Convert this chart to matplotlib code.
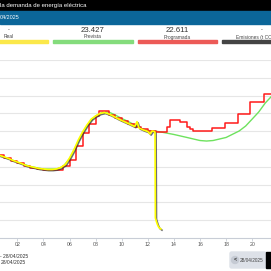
import matplotlib
matplotlib.use('Agg')
import matplotlib.pyplot as plt
import matplotlib.patheffects as pe
from matplotlib.patches import Rectangle, FancyBboxPatch, Circle

plt.rcParams['font.family'] = ['Liberation Sans', 'DejaVu Sans']

W = 271  # figure size in px

# demanda real (MW), hours of the day
real_h = [0.00, 0.33, 0.67, 1.00, 1.33, 1.67, 2.00, 2.33, 2.67, 3.00, 3.33, 3.67,
          4.00, 4.33, 4.67, 5.00, 5.33, 5.67, 6.00, 6.33, 6.67, 7.00, 7.33, 7.67,
          8.00, 8.33, 8.67, 9.00, 9.33, 9.67, 10.00, 10.33, 10.67, 11.00, 11.17,
          11.33, 11.67, 12.00, 12.17, 12.33, 12.50, 12.55, 12.58, 12.67, 12.75,
          12.85, 13.00]
real_mw = [19580, 19300, 19090, 18880, 18670, 18390, 18170, 17960, 17680, 17540,
           17400, 17260, 17190, 17120, 17120, 17190, 17400, 17820, 18740, 19860,
           21260, 22390, 23370, 24210, 24640, 24990, 25130, 24920, 24640, 24290,
           24000, 23730, 23440, 23160, 23840, 22950, 22670, 22460, 22110, 22530,
           22460, 22390, 10310, 9750, 9330, 8970, 8760]

# demanda prevista (MW)
prev_h = [0, 1, 2, 3, 4, 5, 5.5, 6, 6.5, 7, 7.5, 8, 8.5, 9, 9.5, 10, 10.5, 11,
          11.5, 12, 12.5, 13, 14, 15, 16, 16.5, 17, 18, 19, 19.5, 20, 20.5, 21,
          21.5, 22, 23, 24]
prev_mw = [19580, 18880, 18170, 17540, 17190, 17190, 17540, 18600, 20420, 22250,
           23650, 24640, 25130, 25200, 24780, 24290, 23860, 23370, 22880, 22600,
           22530, 22390, 22040, 21620, 21190, 21120, 21190, 21620, 22530, 23230,
           24210, 25200, 26460, 27440, 28010, 27580, 26180]

# demanda programada (MW), steps starting at each hour
prog_h = [0.0, 0.5, 1.0, 1.5, 2.0, 2.5, 3.0, 3.5, 4.0, 4.5, 5.0, 5.5, 6.0, 6.5,
          7.0, 7.5, 8.0, 8.25, 9.0, 9.5, 10.0, 10.5, 11.0, 11.5, 12.0, 12.6,
          13.45, 13.7, 14.5, 15.0, 15.25, 15.5, 16.9, 17.9, 18.9, 19.85, 20.9, 22.0]
prog_mw = [19440, 19160, 18740, 18320, 18030, 17610, 17400, 17260, 17120, 17050,
           17120, 17610, 18460, 20420, 22250, 23510, 24640, 25270, 24780, 24350,
           23930, 23510, 23160, 22740, 22530, 22390, 23090, 24070, 23860, 23090,
           22740, 22460, 22950, 23720, 24920, 26600, 27730, 27730]

tick_hours = [2, 4, 6, 8, 10, 12, 14, 16, 18, 20]
tick_labels = ['02', '04', '06', '08', '10', '12', '14', '16', '18', '20']

legend_values = ['-', '23.427', '22.611', '-']
legend_names = ['Real', 'Prevista', 'Programada', 'Emisiones (t CO2 eq./h)']
legend_colors = ['#fbe84a', '#84dc7c', '#ec5a57', '#444444']


def fx(px):
    return px / W


def fy(py):
    return 1 - py / W


fig = plt.figure(figsize=(W / 100, W / 100), dpi=100)

# header bars
fig.patches.append(Rectangle((0, fy(9.5)), 1, 9.5 / W, transform=fig.transFigure,
                             color='black', zorder=0))
fig.patches.append(Rectangle((0, fy(23.5)), 1, 12.5 / W, transform=fig.transFigure,
                             color='#0b6699', zorder=0))
fig.text(fx(0), fy(5), 'la demanda de energía eléctrica', color='white',
         fontsize=4.3, va='center', ha='left')
fig.text(fx(0), fy(17.5), '04/2025', color='white', fontsize=3.9,
         va='center', ha='left')

# legend boxes
bars = [(-31, 48), (53, 133), (138, 217), (222, 302)]
for (x0, x1), val, name, col in zip(bars, legend_values, legend_names, legend_colors):
    cx = (x0 + x1) / 2
    fig.patches.append(Rectangle((fx(x0), fy(42.5)), (x1 - x0) / W, 2.5 / W,
                                 transform=fig.transFigure, color=col, zorder=0))
    if val == '-':
        fig.text(fx(cx), fy(30), val, fontsize=4, color='#333333',
                 ha='center', va='center')
    else:
        fig.text(fx(cx), fy(30.5), val, fontsize=5.6, color='#333333',
                 ha='center', va='center')
    fig.text(fx(cx), fy(37), name, fontsize=3.5, color='#444444',
             ha='center', va='center')

# chart
ax = fig.add_axes([0, fy(238), 1, 178 / W])
ax.set_xlim(0.674, 21.44)
ax.set_ylim(7500, 32500)
ax.set_yticks(list(range(10000, 32501, 2500)))
ax.grid(axis='y', color='#e6e6e6', lw=0.8)
ax.set_axisbelow(True)
ax.tick_params(axis='y', length=0, labelleft=False)
for s in ['left', 'right', 'top']:
    ax.spines[s].set_visible(False)
ax.spines['bottom'].set_color('#c8cdd6')
ax.spines['bottom'].set_linewidth(0.8)
ax.set_xticks(tick_hours)
ax.set_xticklabels(tick_labels)
ax.tick_params(axis='x', length=2.2, width=0.6, color='#c8cdd6', pad=0.8,
               labelsize=3.8, labelcolor='#555555')
ax.patch.set_alpha(0)

ax.plot(prev_h, prev_mw, color='#6ee25e', lw=1.0, zorder=2)
ax.step(prog_h, prog_mw, where='post', color='#ff1a1a', lw=1.1, zorder=3)
ax.plot(real_h, real_mw, color='#ffff00', lw=1.2, zorder=4,
        path_effects=[pe.SimpleLineShadow(offset=(0.8, -0.8), shadow_color='#333333',
                                          alpha=0.7),
                      pe.Normal()])

# bottom texts
fig.text(fx(0), fy(256), '- 28/04/2025', fontsize=3.6, color='#333333',
         ha='left', va='center')
fig.text(fx(1), fy(262.5), '28/04/2025', fontsize=3.6, color='#333333',
         ha='left', va='center')

# date selector
fig.patches.append(FancyBboxPatch((fx(230), fy(268)), 36 / W, 16 / W,
                                  boxstyle='round,pad=0,rounding_size=0.006',
                                  transform=fig.transFigure, color='#dde1e8', zorder=0))
fig.patches.append(Circle((fx(235), fy(260)), 3.5 / W, transform=fig.transFigure,
                          color='#c5cad3', zorder=1))
fig.text(fx(235), fy(260), '<', fontsize=4, color='#333333', ha='center',
         va='center', fontweight='bold')
fig.text(fx(240), fy(260), '28/04/2025', fontsize=3.4, color='#444444',
         ha='left', va='center')
fig.patches.append(Rectangle((fx(266), fy(268)), 5 / W, 16 / W,
                             transform=fig.transFigure, color='black', zorder=0))

fig.savefig('out.png', dpi=100)
